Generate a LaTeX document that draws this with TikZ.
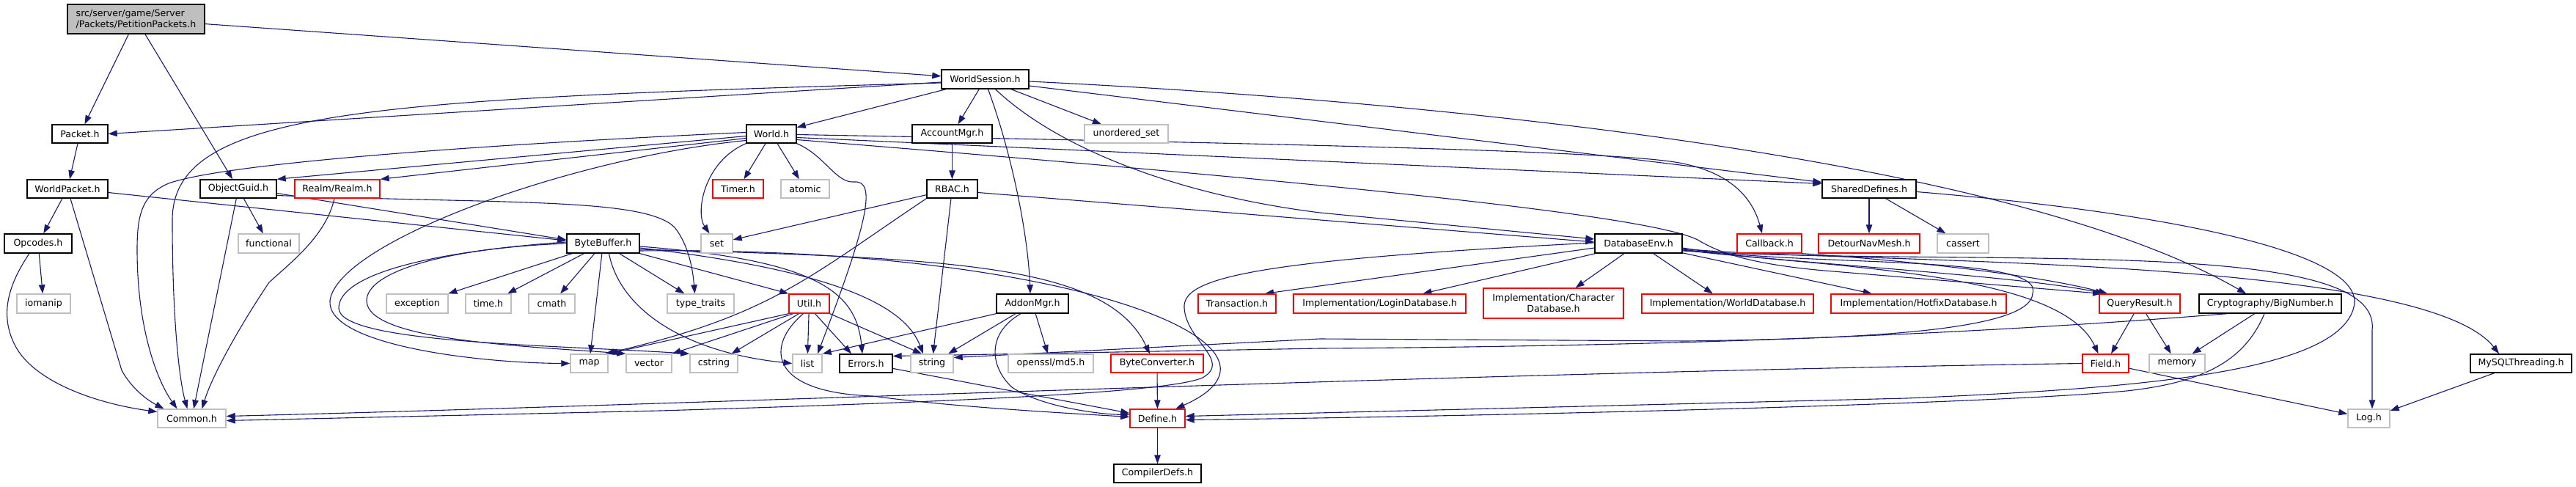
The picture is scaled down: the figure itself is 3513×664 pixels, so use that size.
\documentclass[tikz,border=0pt]{standalone}
\usepackage{fontspec}
\setmainfont{DejaVu Sans}
\usetikzlibrary{arrows.meta,calc,backgrounds}
\definecolor{edgec}{HTML}{191970}
\definecolor{grayb}{HTML}{BFBFBF}
\definecolor{rootf}{HTML}{BFBFBF}
\definecolor{truncr}{HTML}{FF0000}
\begin{document}
\begin{tikzpicture}[x=1pt,y=-1pt,
  box/.style={rectangle, line width=1.4pt, inner sep=0pt, font=\fontsize{12.6}{15}\selectfont, align=center, fill=white},
  blk/.style={box, draw=black},
  gry/.style={box, draw=grayb},
  trc/.style={box, draw=truncr},
  dep/.style={draw=edgec, line width=1.1pt, -{Triangle[length=12pt,width=8.5pt]}}]
\useasboundingbox (0,0) rectangle (3513,664);
% nodes
\node[box, draw=black, fill=rootf, minimum width=187pt, minimum height=40pt, align=left] (pet) at (185.5,26) {src/server/game/Server\\/Packets/PetitionPackets.h};
\node[blk, minimum width=76pt, minimum height=25pt] (packet) at (109,182.5) {Packet.h};
\node[blk, minimum width=110pt, minimum height=25pt] (wpacket) at (92,257.5) {WorldPacket.h};
\node[blk, minimum width=104pt, minimum height=25pt] (oguid) at (325,257.5) {ObjectGuid.h};
\node[trc, minimum width=116pt, minimum height=25pt] (realm) at (460,257.5) {Realm/Realm.h};
\node[blk, minimum width=92pt, minimum height=26pt] (opcodes) at (52,332) {Opcodes.h};
\node[gry, minimum width=73pt, minimum height=26pt] (iomanip) at (59.5,414) {iomanip};
\node[gry, minimum width=83pt, minimum height=26pt] (functional) at (366.5,332) {functional};
\node[gry, minimum width=93pt, minimum height=25pt] (common) at (261.5,570.5) {Common.h};
\node[blk, minimum width=99pt, minimum height=26pt] (bbuf) at (822.5,332) {ByteBuffer.h};
\node[gry, minimum width=84pt, minimum height=26pt] (exception) at (569,414) {exception};
\node[gry, minimum width=62pt, minimum height=26pt] (timeh) at (666,414) {time.h};
\node[gry, minimum width=63pt, minimum height=26pt] (cmath) at (752.5,414) {cmath};
\node[gry, minimum width=51pt, minimum height=25pt] (map) at (803.5,495.5) {map};
\node[gry, minimum width=62pt, minimum height=25pt] (vector) at (885,495.5) {vector};
\node[gry, minimum width=65pt, minimum height=25pt] (cstring) at (973.5,495.5) {cstring};
\node[gry, minimum width=91pt, minimum height=26pt] (typetraits) at (955.5,414) {type\_traits};
\node[trc, minimum width=55pt, minimum height=26pt] (util) at (1103.5,414) {Util.h};
\node[gry, minimum width=40pt, minimum height=25pt] (list) at (1101,495.5) {list};
\node[blk, minimum width=72pt, minimum height=25pt] (errors) at (1181,495.5) {Errors.h};
\node[gry, minimum width=58pt, minimum height=25pt] (string) at (1271,495.5) {string};
\node[gry, minimum width=116pt, minimum height=25pt] (md5) at (1433,495.5) {openssl/md5.h};
\node[trc, minimum width=126pt, minimum height=25pt] (bconv) at (1578,495.5) {ByteConverter.h};
\node[trc, minimum width=75pt, minimum height=25pt] (define) at (1578.5,570.5) {Define.h};
\node[blk, minimum width=119pt, minimum height=25pt] (compdefs) at (1578.5,645.5) {CompilerDefs.h};
\node[blk, minimum width=119pt, minimum height=26pt] (wsess) at (1343.5,108) {WorldSession.h};
\node[blk, minimum width=68pt, minimum height=25pt] (world) at (1052,182.5) {World.h};
\node[blk, minimum width=109pt, minimum height=25pt] (acct) at (1298.5,182.5) {AccountMgr.h};
\node[gry, minimum width=114pt, minimum height=25pt] (uset) at (1536,182.5) {unordered\_set};
\node[trc, minimum width=69pt, minimum height=25pt] (timer) at (1006.5,257.5) {Timer.h};
\node[gry, minimum width=66pt, minimum height=25pt] (atomic) at (1098,257.5) {atomic};
\node[blk, minimum width=69pt, minimum height=25pt] (rbac) at (1298.5,257.5) {RBAC.h};
\node[gry, minimum width=43pt, minimum height=26pt] (set) at (977.5,332) {set};
\node[blk, minimum width=98pt, minimum height=26pt] (addon) at (1408,414) {AddonMgr.h};
\node[trc, minimum width=106pt, minimum height=26pt] (trans) at (1687,414) {Transaction.h};
\node[trc, minimum width=235pt, minimum height=26pt] (logindb) at (1881.5,414) {Implementation/LoginDatabase.h};
\node[trc, minimum width=191pt, minimum height=41pt] (chardb) at (2118.5,413.5) {Implementation/Character\\Database.h};
\node[trc, minimum width=234pt, minimum height=26pt] (worlddb) at (2356,414) {Implementation/WorldDatabase.h};
\node[trc, minimum width=239pt, minimum height=26pt] (hotfixdb) at (2616.5,414) {Implementation/HotfixDatabase.h};
\node[trc, minimum width=110pt, minimum height=26pt] (qres) at (2918,414) {QueryResult.h};
\node[blk, minimum width=194pt, minimum height=26pt] (bignum) at (3096,414) {Cryptography/BigNumber.h};
\node[trc, minimum width=63pt, minimum height=25pt] (field) at (2871.5,495.5) {Field.h};
\node[gry, minimum width=76pt, minimum height=25pt] (memory) at (2969,495.5) {memory};
\node[blk, minimum width=138pt, minimum height=25pt] (mysqlt) at (3438,495.5) {MySQLThreading.h};
\node[gry, minimum width=57pt, minimum height=25pt] (logh) at (3230.5,570.5) {Log.h};
\node[blk, minimum width=128pt, minimum height=25pt] (shared) at (2549,257.5) {SharedDefines.h};
\node[blk, minimum width=119pt, minimum height=26pt] (dbenv) at (2234.5,332) {DatabaseEnv.h};
\node[trc, minimum width=88pt, minimum height=26pt] (callback) at (2413,332) {Callback.h};
\node[trc, minimum width=138pt, minimum height=26pt] (detour) at (2549,332) {DetourNavMesh.h};
\node[gry, minimum width=70pt, minimum height=26pt] (cassert) at (2677,332) {cassert};
\begin{pgfonlayer}{background}
\fill[white] (0,0) rectangle (3513,664);
% edges: PetitionPackets
\draw[dep] (pet) -- (packet);
\draw[dep] (pet) -- (oguid);
\draw[dep] (pet) -- (wsess);
% WorldSession
\draw[dep] ([yshift=-4pt]wsess.west) -- (packet.east);
\draw[dep] ([yshift=-5pt]wsess.west) .. controls (500,135) and (235,150) .. (235,300) .. controls (235,440) and (245,520) .. ([xshift=-6pt]common.north);
\draw[dep] (wsess) -- (world);
\draw[dep] (wsess) -- (acct);
\draw[dep] ([xshift=4pt]wsess.south) .. controls (1380,210) and (1402,320) .. ([xshift=-3pt]addon.north);
\draw[dep] (wsess) -- (uset);
\draw[dep] ([xshift=14pt]wsess.south) .. controls (1440,200) and (1600,265) .. (1800,290) -- ([yshift=6pt]dbenv.west);
\draw[dep] ([yshift=-9pt]wsess.east) -- ([yshift=9pt]shared.west);
\draw[dep] ([yshift=-3pt]wsess.east) .. controls (2000,140) and (2750,220) .. ([xshift=-33pt]bignum.north);
% Packet, WorldPacket, Opcodes
\draw[dep] (packet) -- (wpacket);
\draw[dep] (wpacket) -- (opcodes);
\draw[dep] ([xshift=4pt]wpacket.south) -- (166,505) .. controls (180,530) and (200,545) .. ([xshift=-38pt]common.north);
\draw[dep] ([yshift=-5pt]wpacket.east) -- ([yshift=4pt]bbuf.west);
\draw[dep] (opcodes) -- (iomanip);
\draw[dep] ([xshift=-12pt]opcodes.south) .. controls (10,390) and (0,430) .. (20,470) .. controls (45,520) and (130,550) .. ([yshift=9pt]common.west);
% ObjectGuid, Realm
\draw[dep] (oguid) -- (common);
\draw[dep] (oguid) -- (functional);
\draw[dep] ([yshift=-6pt]oguid.east) -- ([yshift=5pt]bbuf.west);
\draw[dep] ([yshift=-9pt]oguid.east) .. controls (700,278) and (880,270) .. (920,310) .. controls (940,335) and (945,370) .. ([xshift=-8pt]typetraits.north);
\draw[dep] ([xshift=-4pt]realm.south) .. controls (445,320) and (400,355) .. (367,385) .. controls (330,440) and (290,510) .. ([xshift=14pt]common.north);
% World
\draw[dep] ([yshift=2pt]world.west) .. controls (600,200) and (300,225) .. (230,250) .. controls (195,265) and (187,290) .. (187,340) .. controls (187,450) and (215,520) .. ([xshift=-20pt]common.north);
\draw[dep] ([yshift=-3pt]world.west) -- (oguid.north east);
\draw[dep] ([yshift=-6pt]world.west) -- (realm.north east);
\draw[dep] ([yshift=-9pt]world.west) .. controls (780,215) and (460,330) .. (450,410) .. controls (445,470) and (650,495) .. (map.west);
\draw[dep] (world.south west) .. controls (960,220) and (948,290) .. ([xshift=-10pt]set.north);
\draw[dep] (world) -- (timer);
\draw[dep] (world) -- (atomic);
\draw[dep] (world.south east) .. controls (1125,212) and (1140,250) .. (1165,248) .. controls (1195,246) and (1185,300) .. ([xshift=14pt]list.north);
\draw[dep] ([yshift=-5pt]world.east) -- ([yshift=7pt]shared.west);
\draw[dep] ([yshift=-1pt]world.east) .. controls (1700,195) and (2200,205) .. (2290,222) .. controls (2360,235) and (2390,270) .. ([xshift=-10pt]callback.north);
\draw[dep] ([yshift=-8pt]world.east) .. controls (1700,240) and (2250,290) .. (2317,328) .. controls (2350,348) and (2400,362) .. (2500,370) -- ([xshift=-52pt]qres.north);
% AccountMgr, RBAC
\draw[dep] (acct) -- (rbac);
\draw[dep] (rbac) -- (set);
\draw[dep] (rbac.south west) .. controls (1100,380) and (1050,430) .. ([xshift=-4pt]map.north east);
\draw[dep] (rbac) -- (string);
\draw[dep] ([yshift=-5pt]rbac.east) -- ([yshift=2pt]dbenv.west);
% ByteBuffer
\draw[dep] (bbuf) -- (exception);
\draw[dep] (bbuf) -- (timeh);
\draw[dep] (bbuf) -- (cmath);
\draw[dep] (bbuf) -- (map);
\draw[dep] (bbuf) -- (typetraits);
\draw[dep] ([yshift=2pt]bbuf.west) .. controls (560,345) and (462,380) .. (462,420) .. controls (462,468) and (750,470) .. (cstring.north west);
\draw[dep] (bbuf.west) .. controls (610,338) and (500,370) .. (500,410) .. controls (500,465) and (720,472) .. (vector.north west);
\draw[dep] (bbuf.south east) -- (util.north west);
\draw[dep] ([xshift=8pt]bbuf.south) .. controls (845,420) and (930,480) .. (list.west);
\draw[dep] ([yshift=-4pt]bbuf.east) .. controls (1120,355) and (1168,400) .. ([xshift=-5pt]errors.north);
\draw[dep] ([yshift=-6pt]bbuf.east) .. controls (1150,370) and (1235,420) .. ([xshift=-12pt]string.north);
\draw[dep] ([yshift=-8pt]bbuf.east) .. controls (1300,352) and (1510,360) .. ([xshift=-10pt]bconv.north);
\draw[dep] ([yshift=-10pt]bbuf.east) .. controls (1450,335) and (1800,470) .. ([xshift=25pt]define.north);
% Util
\draw[dep] (util.south west) -- (map.north east);
\draw[dep] ([xshift=-22pt]util.south) -- (vector.north east);
\draw[dep] ([xshift=-14pt]util.south) -- ([xshift=24pt]cstring.north);
\draw[dep] (util) -- (list);
\draw[dep] ([xshift=8pt]util.south) -- ([xshift=-20pt]errors.north);
\draw[dep] (util.south east) -- ([xshift=-14pt]string.north);
\draw[dep] ([xshift=-8pt]util.south) .. controls (1045,470) and (1045,535) .. (1190,540) .. controls (1300,555) and (1450,563) .. ([yshift=2pt]define.west);
% AddonMgr
\draw[dep] (addon.south west) -- (list.north east);
\draw[dep] (addon) -- (string);
\draw[dep] ([xshift=-16pt]addon.south) .. controls (1345,455) and (1350,500) .. (1380,528) .. controls (1420,555) and (1500,565) .. ([yshift=5pt]define.west);
\draw[dep] (addon) -- (md5);
% Errors, ByteConverter, Define
\draw[dep] (errors) -- (define);
\draw[dep] (bconv) -- (define);
\draw[dep] (define) -- (compdefs);
% SharedDefines
\draw[dep] (shared) -- (detour);
\draw[dep] (shared) -- (cassert);
\draw[dep] ([yshift=-4pt]shared.east) .. controls (2900,285) and (3215,335) .. (3211,413) .. controls (3200,510) and (2900,530) .. (2600,543) -- ([yshift=3pt]define.east);
% DatabaseEnv
\draw[dep] ([yshift=-6pt]dbenv.west) -- ([xshift=38pt]trans.north);
\draw[dep] ([yshift=1pt]dbenv.west) .. controls (1700,355) and (1612,380) .. (1615,420) .. controls (1618,465) and (1680,492) .. (1640,515) .. controls (1600,532) and (1400,545) .. (900,560) -- ([yshift=-3pt]common.east);
\draw[dep] (dbenv) -- (logindb);
\draw[dep] (dbenv) -- (chardb);
\draw[dep] (dbenv) -- (worlddb);
\draw[dep] (dbenv) -- (hotfixdb);
\draw[dep] ([yshift=-8pt]dbenv.east) .. controls (2450,360) and (2750,375) .. ([xshift=-48pt]qres.north);
\draw[dep] ([yshift=-9pt]dbenv.east) .. controls (2500,365) and (2810,370) .. ([xshift=-10pt]field.north);
\draw[dep] ([yshift=-6pt]dbenv.east) .. controls (2450,365) and (2790,345) .. (2772,400) .. controls (2770,455) and (2500,462) .. (2300,465) -- (1800,462) -- ([yshift=8pt]string.east);
\draw[dep] ([yshift=-7pt]dbenv.east) .. controls (2500,360) and (3300,345) .. ([xshift=-30pt]mysqlt.north);
\draw[dep] ([yshift=-10pt]dbenv.east) .. controls (2700,365) and (3250,320) .. (3235,450) -- ([xshift=4.5pt]logh.north);
% Callback, QueryResult, BigNumber, Field, MySQLThreading
\draw[dep] (callback.south east) .. controls (2600,355) and (2780,375) .. ([xshift=-44pt]qres.north);
\draw[dep] (qres) -- (field);
\draw[dep] (qres) -- (memory);
\draw[dep] (bignum) -- (memory);
\draw[dep] ([xshift=-8pt]bignum.south) .. controls (3060,495) and (3000,522) .. (2900,533) .. controls (2700,552) and (2000,568) .. ([yshift=-2pt]define.east);
\draw[dep] ([xshift=-59pt]bignum.south) .. controls (2700,455) and (2300,472) .. (1800,475) -- ([yshift=10pt]errors.east);
\draw[dep] (field.west) .. controls (2000,508) and (1000,550) .. ([yshift=3pt]common.east);
\draw[dep] (field) -- (logh);
\draw[dep] (mysqlt) -- (logh);
\end{pgfonlayer}
\end{tikzpicture}
\end{document}
